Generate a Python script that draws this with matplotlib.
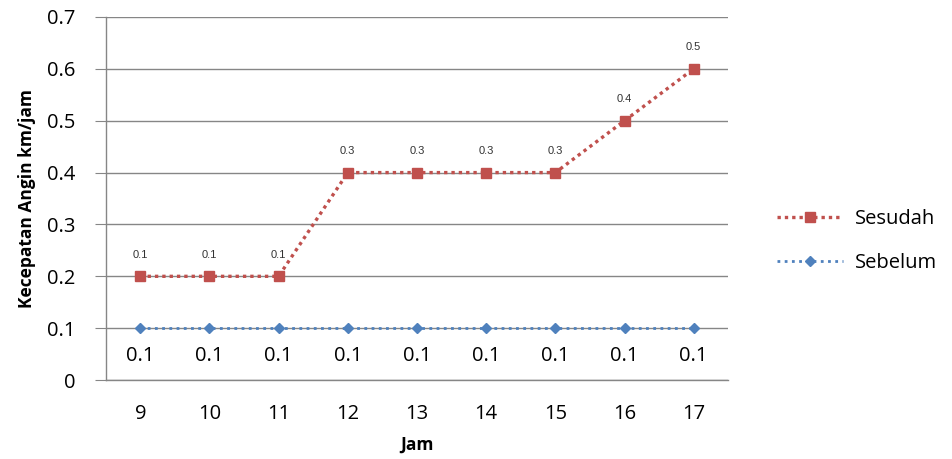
import numpy as np
import matplotlib.pyplot as plt

# %% DATA
jam = ['9', '10', '11', '12', '13', '14', '15', '16', '17']
sebelum = [0.1, 0.1, 0.1, 0.1, 0.1, 0.1, 0.1, 0.1, 0.1]
sesudah = [0.1, 0.1, 0.1, 0.3, 0.3, 0.3, 0.3, 0.4, 0.5]
y_ticks = [0, 0.1, 0.2, 0.3, 0.4, 0.5, 0.6, 0.7]

# %% PLOT
plt.rcParams['font.family'] = ['Open Sans', 'DejaVu Sans']

red = '#C0504D'
blue = '#4F81BD'
grid_col = '#868686'

fig = plt.figure(figsize=(9.52, 4.59), dpi=100)
ax = fig.add_axes([0.111, 0.172, 0.654, 0.791])

x = np.arange(len(jam))
seb = np.array(sebelum)
ses_stacked = seb + np.array(sesudah)  # stacked line chart

ax.plot(x, ses_stacked, color=red, linestyle=(0, (1, 1.2)), linewidth=2.4,
        marker='s', markersize=7, markeredgecolor=red, label='Sesudah',
        zorder=3)
ax.plot(x, seb, color=blue, linestyle=(0, (1, 1.6)), linewidth=2.0,
        marker='D', markersize=5, markeredgecolor=blue, label='Sebelum',
        zorder=3)

for xi, yi, v in zip(x, ses_stacked, sesudah):
    ax.annotate(f'{v:g}', (xi, yi), xytext=(0, 12), textcoords='offset points',
                ha='center', va='bottom', fontsize=8, family='Liberation Sans',
                color='#333333')
for xi, yi, v in zip(x, seb, sebelum):
    ax.annotate(f'{v:g}', (xi, yi), xytext=(0, -13), textcoords='offset points',
                ha='center', va='top', fontsize=14.5, color='black')

ax.set_xlim(-0.5, len(jam) - 0.5)
ax.set_ylim(0, 0.7)
ax.set_yticks(y_ticks)
ax.set_yticklabels([f'{t:g}' for t in y_ticks])
ax.set_xticks(x)
ax.set_xticklabels(jam)
ax.grid(axis='y', color=grid_col, linewidth=1)
ax.set_axisbelow(True)

for s in ['top', 'right']:
    ax.spines[s].set_visible(False)
for s in ['left', 'bottom']:
    ax.spines[s].set_color(grid_col)
    ax.spines[s].set_linewidth(1)

ax.tick_params(axis='y', length=8, color=grid_col, labelsize=14.5, pad=14)
ax.tick_params(axis='x', length=0, labelsize=14.5, pad=17)

ax.set_xlabel('Jam', fontsize=12.5, fontweight='bold', labelpad=9)
ax.set_ylabel('Kecepatan Angin km/jam', fontsize=12.5, fontweight='bold',
              labelpad=8)

fig.legend(loc='center left', bbox_to_anchor=(0.797, 0.475), frameon=False,
           fontsize=14.5, handlelength=3.3, labelspacing=1.15,
           handletextpad=0.6)

plt.savefig('out.png', dpi=100)
